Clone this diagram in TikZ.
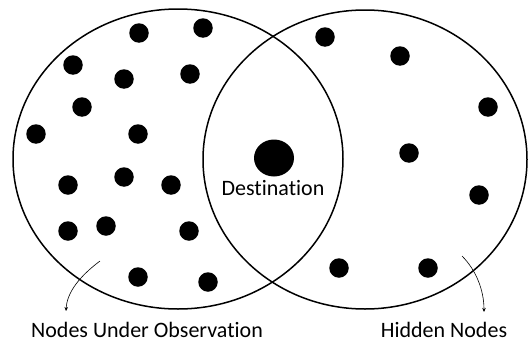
\documentclass[tikz,border=0pt]{standalone}
\usepackage{fontspec}
\setmainfont[Ligatures={NoCommon}]{Carlito}
\usetikzlibrary{arrows.meta}
\begin{document}
\begin{tikzpicture}[x=1pt,y=-1pt,
  dot/.style={circle,fill=black,inner sep=0pt,minimum size=19.5pt},
  ring/.style={draw=black,line width=1.5pt},
  lbl/.style={font=\fontsize{22}{25}\selectfont,inner sep=0pt,anchor=base},
  pointer/.style={draw=black,line width=0.6pt,-{Stealth[length=4pt,width=3.5pt]}}]
\useasboundingbox (0,0) rectangle (528,343);
\draw[ring] (178,159) ellipse [x radius=165,y radius=150];
\draw[ring] (365,159.5) ellipse [x radius=162,y radius=149.5];
% left dots
\node[dot] (l1) at (139,33) {};
\node[dot] (l2) at (203,28) {};
\node[dot] (l3) at (73,65) {};
\node[dot] (l4) at (124,79) {};
\node[dot] (l5) at (190,74) {};
\node[dot] (l6) at (82,107) {};
\node[dot] (l7) at (36,134) {};
\node[dot] (l8) at (138,134) {};
\node[dot] (l9) at (124,177) {};
\node[dot] (l10) at (68,185) {};
\node[dot] (l11) at (171,185) {};
\node[dot] (l12) at (68,231) {};
\node[dot] (l13) at (106,226) {};
\node[dot] (l14) at (189,231) {};
\node[dot] (l15) at (138,277) {};
\node[dot] (l16) at (208,282) {};
% right dots
\node[dot] (r1) at (325,37) {};
\node[dot] (r2) at (400,56) {};
\node[dot] (r3) at (488,107) {};
\node[dot] (r4) at (409,153) {};
\node[dot] (r5) at (479,195) {};
\node[dot] (r6) at (339,268) {};
\node[dot] (r7) at (428,268) {};
% destination
\fill (274,158) ellipse [x radius=20,y radius=18.5];
\node[lbl] (dest) at (273,195) {Destination};
% labels
\node[lbl] (obs) at (147,337) {Nodes Under Observation};
\node[lbl] (hid) at (444,337) {Hidden Nodes};
\coordinate (obsfrom) at (100,261);
\coordinate (obsto) at (66,311);
\coordinate (hidfrom) at (462,256);
\coordinate (hidto) at (484,312);
\draw[pointer] (obsfrom) .. controls (80,276) and (67,292) .. (obsto);
\draw[pointer] (hidfrom) .. controls (476,270) and (484,290) .. (hidto);
\end{tikzpicture}
\end{document}
